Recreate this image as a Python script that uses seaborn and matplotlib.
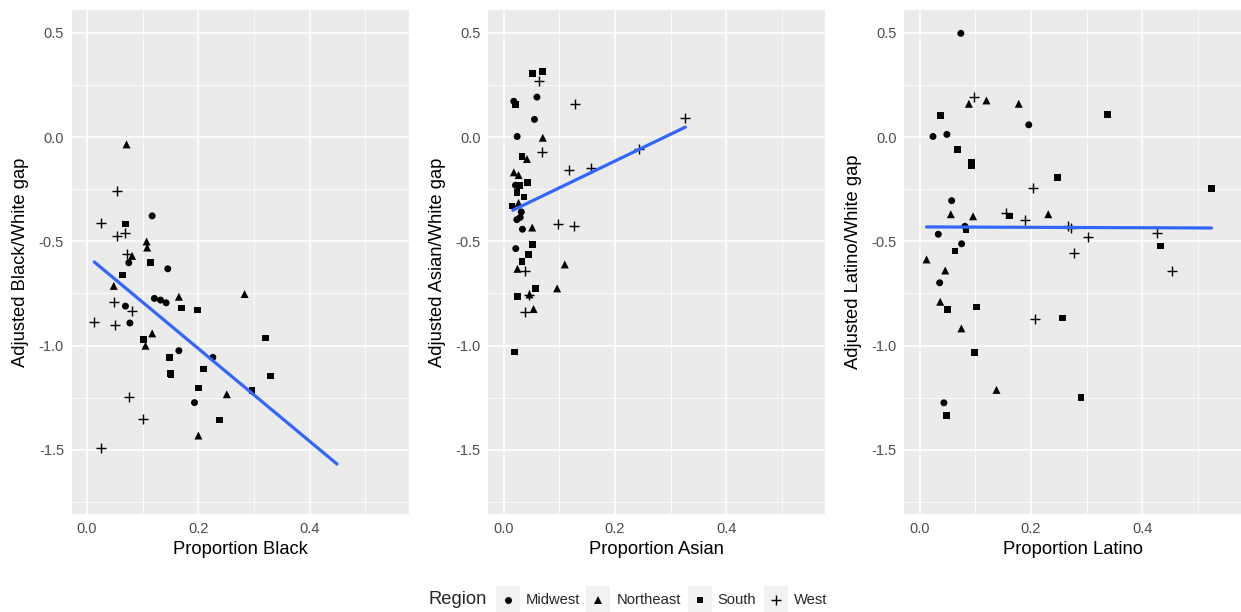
import matplotlib
matplotlib.use("Agg")
import matplotlib.pyplot as plt
from matplotlib.patches import Rectangle
from matplotlib.lines import Line2D
import numpy as np
import pandas as pd
import seaborn as sns

# ---------------------------------------------------------------- data
REGIONS = ["Midwest", "Northeast", "South", "West"]

black_region = ["Northeast", "West", "Midwest", "West", "South", "West", "West", "Northeast",
                "Northeast", "West", "Northeast", "Midwest", "South", "Midwest", "South",
                "Northeast", "Northeast", "Northeast", "Midwest", "Midwest", "Midwest", "West",
                "Midwest", "South", "South", "West", "West", "West", "Midwest", "Northeast",
                "South", "Northeast", "Midwest", "South", "Midwest", "South", "South", "South",
                "South", "South", "South", "South", "Northeast", "Midwest", "West", "South",
                "West", "Northeast", "West"]
black_prop = [0.071, 0.054, 0.117, 0.026, 0.069, 0.053, 0.069, 0.107,
              0.108, 0.071, 0.081, 0.075, 0.114, 0.145, 0.064,
              0.048, 0.165, 0.283, 0.121, 0.132, 0.142, 0.048,
              0.069, 0.170, 0.198, 0.081, 0.013, 0.050, 0.077, 0.117,
              0.102, 0.105, 0.165, 0.148, 0.226, 0.209, 0.150, 0.151,
              0.321, 0.329, 0.200, 0.296, 0.251, 0.193, 0.075, 0.238,
              0.100, 0.200, 0.025]
black_gap = [-0.035, -0.259, -0.378, -0.412, -0.417, -0.474, -0.458, -0.501,
             -0.530, -0.563, -0.570, -0.603, -0.602, -0.632, -0.661,
             -0.714, -0.766, -0.753, -0.774, -0.782, -0.795, -0.793,
             -0.811, -0.820, -0.830, -0.836, -0.889, -0.902, -0.892, -0.942,
             -0.970, -1.001, -1.025, -1.058, -1.057, -1.113, -1.133, -1.140,
             -0.964, -1.146, -1.204, -1.215, -1.234, -1.274, -1.247, -1.358,
             -1.352, -1.432, -1.491]
black_fit_x = [0.013, 0.449]
black_fit_y = [-0.599, -1.569]

asian_region = ["South", "South", "West", "Midwest", "Midwest", "South", "West", "Midwest",
                "Midwest", "Northeast", "West", "South", "Northeast", "West", "West",
                "Northeast", "Northeast", "South", "Midwest", "South", "South", "South",
                "South", "Northeast", "Midwest", "Midwest", "Midwest", "Midwest", "Northeast",
                "West", "West", "South", "Midwest", "South", "South", "Northeast", "West",
                "Northeast", "South", "Northeast", "South", "Northeast", "West", "Northeast",
                "West", "South", "West", "West"]
asian_prop = [0.0515, 0.070, 0.063, 0.060, 0.0185, 0.022, 0.129, 0.0556,
              0.0245, 0.0705, 0.069, 0.033, 0.042, 0.118, 0.157,
              0.0185, 0.027, 0.0436, 0.0215, 0.0287, 0.024, 0.0365,
              0.015, 0.027, 0.032, 0.030, 0.024, 0.034, 0.0515,
              0.0987, 0.126, 0.0515, 0.022, 0.0454, 0.0335, 0.025, 0.039,
              0.110, 0.0574, 0.0963, 0.025, 0.0466, 0.045, 0.054,
              0.038, 0.0197, 0.3265, 0.244]
asian_gap = [0.304, 0.316, 0.268, 0.192, 0.172, 0.155, 0.160, 0.085,
             0.003, -0.003, -0.072, -0.092, -0.105, -0.159, -0.148,
             -0.169, -0.182, -0.218, -0.231, -0.231, -0.266, -0.287,
             -0.330, -0.316, -0.359, -0.385, -0.396, -0.442, -0.434,
             -0.417, -0.426, -0.514, -0.535, -0.563, -0.597, -0.632, -0.642,
             -0.611, -0.726, -0.726, -0.766, -0.755, -0.758, -0.825,
             -0.840, -1.031, 0.093, -0.056]
asian_fit_x = [0.0167, 0.3265]
asian_fit_y = [-0.351, 0.048]

latino_region = ["Midwest", "West", "Northeast", "Northeast", "Northeast", "South", "Midwest",
                 "Midwest", "Midwest", "South", "South", "South", "South", "West", "Midwest",
                 "Northeast", "Northeast", "West", "South", "Northeast", "West", "West", "West",
                 "West", "West", "Midwest", "South", "Midwest", "Midwest", "South", "Northeast",
                 "Northeast", "Midwest", "Northeast", "South", "South", "Northeast", "West",
                 "South", "South", "Northeast", "South", "Midwest", "South", "South", "South",
                 "West", "South", "West"]
latino_prop = [0.074, 0.098, 0.0885, 0.120, 0.178, 0.0377, 0.196,
               0.024, 0.049, 0.0675, 0.093, 0.093, 0.248, 0.203, 0.0575,
               0.056, 0.096, 0.155, 0.161, 0.231, 0.189, 0.267, 0.271,
               0.303, 0.2775, 0.0813, 0.083, 0.0335, 0.0755, 0.0635, 0.0125,
               0.046, 0.036, 0.037, 0.050, 0.102, 0.075, 0.208,
               0.257, 0.099, 0.138, 0.290, 0.0436, 0.048, 0.337, 0.524,
               0.427, 0.433, 0.454]
latino_gap = [0.498, 0.192, 0.160, 0.176, 0.160, 0.104, 0.059,
              0.003, 0.013, -0.059, -0.123, -0.136, -0.194, -0.246, -0.305,
              -0.370, -0.380, -0.362, -0.378, -0.370, -0.400, -0.428, -0.438,
              -0.479, -0.554, -0.428, -0.443, -0.466, -0.512, -0.547, -0.587,
              -0.640, -0.699, -0.790, -0.827, -0.816, -0.918, -0.875,
              -0.868, -1.033, -1.213, -1.251, -1.275, -1.336, 0.110, -0.247,
              -0.460, -0.523, -0.642]
latino_fit_x = [0.0125, 0.524]
latino_fit_y = [-0.431, -0.436]

X_TICKS = [0.0, 0.2, 0.4]
X_TICK_LABELS = ["0.0", "0.2", "0.4"]
Y_TICKS = [-1.5, -1.0, -0.5, 0.0, 0.5]
Y_TICK_LABELS = ["-1.5", "-1.0", "-0.5", "0.0", "0.5"]

# ---------------------------------------------------------------- style
sns.set_style("darkgrid", {"axes.facecolor": "#EBEBEB", "grid.color": "white"})
plt.rcParams["font.family"] = ["Liberation Sans", "DejaVu Sans"]

MARKERS = {"Midwest": "o", "Northeast": "^", "South": "s", "West": "+"}
SIZES = {"Midwest": 25, "Northeast": 33, "South": 23, "West": 58}
FIT_COLOR = "#3366FF"
TICK_TEXT = "#4D4D4D"
TICK_LINE = "#333333"

W, H = 1241, 612
fig = plt.figure(figsize=(W / 100, H / 100), dpi=100)

panel_w, panel_h = 336.9, 504.3
panel_top = 10.0
panel_lefts = [71.7, 488.2, 904.3]

panels = [
    ("Proportion Black", "Adjusted Black/White gap", black_prop, black_gap, black_region,
     black_fit_x, black_fit_y),
    ("Proportion Asian", "Adjusted Asian/White gap", asian_prop, asian_gap, asian_region,
     asian_fit_x, asian_fit_y),
    ("Proportion Latino", "Adjusted Latino/White gap", latino_prop, latino_gap, latino_region,
     latino_fit_x, latino_fit_y),
]

for left, (xlab, ylab, xs, ys, regs, fx, fy) in zip(panel_lefts, panels):
    ax = fig.add_axes([left / W, (H - panel_top - panel_h) / H, panel_w / W, panel_h / H])
    df = pd.DataFrame({"x": xs, "y": ys, "Region": regs})
    for reg in REGIONS:
        sub = df[df["Region"] == reg]
        if MARKERS[reg] == "+":
            sns.scatterplot(data=sub, x="x", y="y", marker="+", color="black",
                            s=SIZES[reg], linewidth=1.0, ax=ax, legend=False, zorder=3)
        else:
            sns.scatterplot(data=sub, x="x", y="y", marker=MARKERS[reg], color="black",
                            s=SIZES[reg], linewidth=0, edgecolor="none", ax=ax,
                            legend=False, zorder=3)
    sns.lineplot(x=fx, y=fy, color=FIT_COLOR, linewidth=2.3, ax=ax, zorder=4)

    ax.set_xlim(-0.0275, 0.5775)
    ax.set_ylim(-1.81, 0.61)
    ax.set_xticks(X_TICKS)
    ax.set_xticklabels(X_TICK_LABELS)
    ax.set_yticks(Y_TICKS)
    ax.set_yticklabels(Y_TICK_LABELS)
    ax.set_xticks([0.1, 0.3, 0.5], minor=True)
    ax.set_yticks([-1.75, -1.25, -0.75, -0.25, 0.25], minor=True)
    ax.grid(which="major", color="white", linewidth=1.1)
    ax.grid(which="minor", color="white", linewidth=0.55)
    ax.set_axisbelow(True)
    for sp in ax.spines.values():
        sp.set_visible(False)
    ax.tick_params(which="major", length=3.3, width=0.8, color=TICK_LINE,
                   labelcolor=TICK_TEXT, labelsize=10.5, pad=2.2)
    ax.tick_params(which="minor", length=0)
    ax.set_xlabel("")
    ax.set_ylabel("")

    cx = left + panel_w / 2
    fig.text(cx / W, 1 - 550 / H, xlab, ha="center", va="center", fontsize=13.2, color="black")
    fig.text((left - 51) / W, 1 - (panel_top + panel_h / 2) / H, ylab, rotation=90,
             ha="center", va="center", fontsize=13.2, color="black")

# ---------------------------------------------------------------- legend
leg_y = 600
fig.text(428 / W, 1 - leg_y / H, "Region", ha="left", va="center", fontsize=13.2)
key_center = [507.5, 597.5, 699.5, 775.5]
label_left = [526.0, 616.5, 717.0, 794.0]
key_w, key_h = 24, 28
for reg, kx, tx in zip(REGIONS, key_center, label_left):
    fig.patches.append(Rectangle(((kx - key_w / 2) / W, 1 - (leg_y + key_h / 2) / H),
                                 key_w / W, key_h / H, transform=fig.transFigure,
                                 facecolor="#F2F2F2", edgecolor="none", zorder=1))
    if MARKERS[reg] == "+":
        mk = Line2D([kx / W], [1 - leg_y / H], marker="+", color="black",
                    markersize=np.sqrt(SIZES[reg]), markeredgewidth=1.0, linestyle="none",
                    transform=fig.transFigure)
    else:
        mk = Line2D([kx / W], [1 - leg_y / H], marker=MARKERS[reg], color="black",
                    markersize=np.sqrt(SIZES[reg]), markeredgewidth=0, linestyle="none",
                    transform=fig.transFigure)
    fig.lines.append(mk)
    fig.text(tx / W, 1 - leg_y / H, reg, ha="left", va="center", fontsize=10.6)

fig.savefig("out.png", dpi=100)
